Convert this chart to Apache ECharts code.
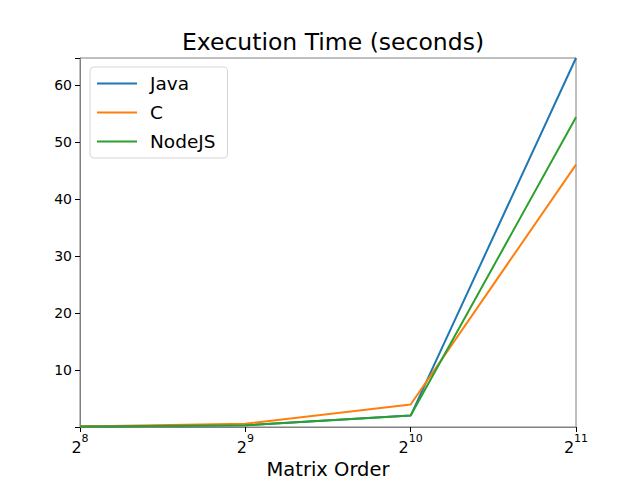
<!DOCTYPE html>
<html>
<head>
<meta charset="utf-8">
<script src="https://cdn.jsdelivr.net/npm/echarts@6/dist/echarts.min.js"></script>
<style>
  html, body { margin: 0; padding: 0; background: #fff; }
  #chart { width: 640px; height: 480px; }
</style>
</head>
<body>
<div id="chart"></div>
<script>
var matrixOrder = [256, 512, 1024, 2048];
var javaTimes = [0.1, 0.3, 2.0, 64.7];
var cTimes = [0.1, 0.55, 3.95, 46.0];
var nodeTimes = [0.1, 0.3, 2.0, 54.3];
var yTicks = [10, 20, 30, 40, 50, 60];

var font = 'DejaVu Sans';
var spine = '#808080';

function pairs(vals) {
  return matrixOrder.map(function(x, i) { return [x, vals[i]]; });
}

var chart = echarts.init(document.getElementById('chart'), null, { renderer: 'svg' });
chart.setOption({
  animation: false,
  backgroundColor: '#fff',
  textStyle: { fontFamily: font },
  title: {
    text: 'Execution Time (seconds)',
    left: 328, top: 25, textAlign: 'center',
    textStyle: { fontFamily: font, fontSize: 23.5, fontWeight: 'normal', color: '#000' }
  },
  grid: { left: 80, right: 64, top: 58, bottom: 53, outerBoundsMode: 'none', containLabel: false, show: true, borderColor: spine, borderWidth: 1 },
  legend: {
    left: 90, top: 67, orient: 'vertical',
    itemWidth: 40, itemHeight: 2, itemGap: 10, icon: 'rect',
    padding: [7, 12, 7, 7],
    borderColor: '#d6d6d6', borderWidth: 1, borderRadius: 4,
    textStyle: { fontFamily: font, fontSize: 18.5, color: '#000', padding: [0, 0, 0, 8] },
    data: ['Java', 'C', 'NodeJS']
  },
  xAxis: {
    type: 'log', logBase: 2, min: 256, max: 2048,
    name: 'Matrix Order', nameLocation: 'middle', nameGap: 31,
    nameTextStyle: { fontFamily: font, fontSize: 19.5, color: '#000' },
    axisLine: { show: true, lineStyle: { color: spine } },
    axisTick: { show: true, length: 5, lineStyle: { color: '#000' } },
    minorTick: { show: false },
    splitLine: { show: false },
    axisLabel: {
      color: '#000', margin: 6,
      formatter: function(v) { return '{b|2}{s|' + Math.round(Math.log2(v)) + '}'; },
      rich: {
        b: { fontFamily: font, fontSize: 16, color: '#000', verticalAlign: 'bottom', lineHeight: 22 },
        s: { fontFamily: font, fontSize: 11, color: '#000', verticalAlign: 'top', padding: [0, 0, 8, 0] }
      }
    }
  },
  yAxis: {
    type: 'value', min: 0, max: 64.7, interval: 10,
    axisLine: { show: true, lineStyle: { color: spine } },
    axisTick: { show: true, inside: false, length: 5, lineStyle: { color: '#000' } },
    splitLine: { show: false },
    axisLabel: {
      color: '#000', fontFamily: font, fontSize: 14, margin: 8,
      formatter: function(v) { return yTicks.indexOf(v) >= 0 ? String(v) : ''; }
    }
  },
  series: [
    { name: 'Java', type: 'line', data: pairs(javaTimes), symbol: 'none', lineStyle: { color: '#1f77b4', width: 2 }, itemStyle: { color: '#1f77b4' } },
    { name: 'C', type: 'line', data: pairs(cTimes), symbol: 'none', lineStyle: { color: '#ff7f0e', width: 2 }, itemStyle: { color: '#ff7f0e' } },
    { name: 'NodeJS', type: 'line', data: pairs(nodeTimes), symbol: 'none', lineStyle: { color: '#2ca02c', width: 2 }, itemStyle: { color: '#2ca02c' } }
  ]
});
</script>
</body>
</html>
